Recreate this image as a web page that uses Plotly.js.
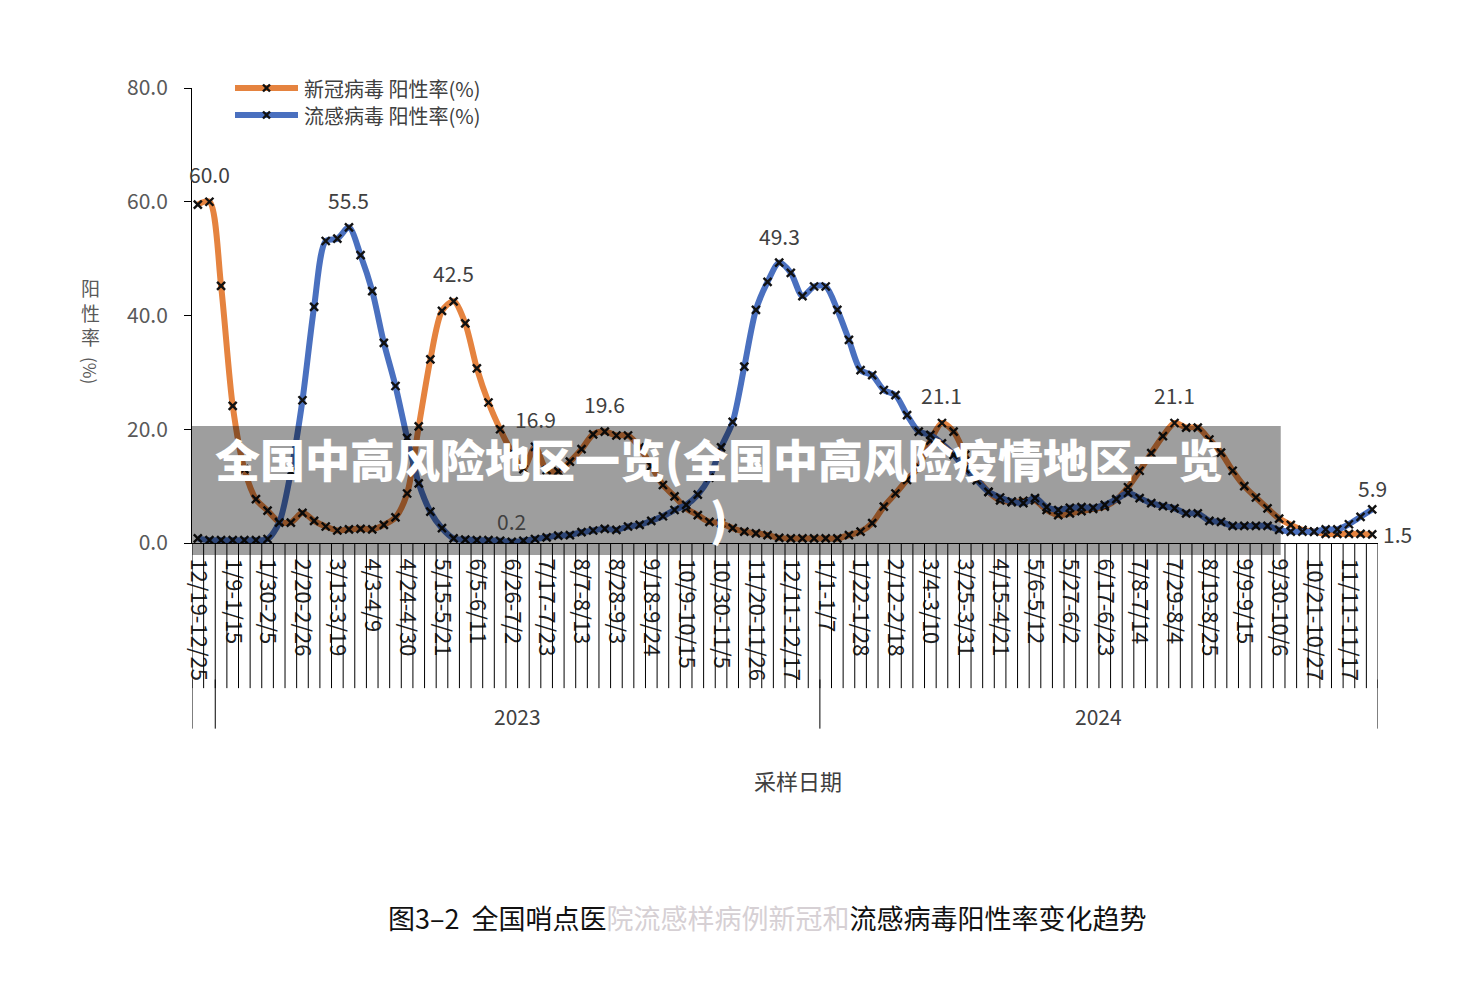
<!DOCTYPE html>
<html>
<head>
<meta charset="utf-8">
<script src="https://cdn.plot.ly/plotly-3.0.1.min.js"></script>
<style>
html,body{margin:0;padding:0;background:#ffffff;}
#chart{width:1474px;height:982px;}
</style>
</head>
<body>
<div id="chart"></div>
<script>
// ---------- DATA ----------
const weeks = [
  '12/19-12/25','12/26-1/1',
  '1/2-1/8','1/9-1/15','1/16-1/22','1/23-1/29','1/30-2/5','2/6-2/12','2/13-2/19','2/20-2/26',
  '2/27-3/5','3/6-3/12','3/13-3/19','3/20-3/26','3/27-4/2','4/3-4/9','4/10-4/16','4/17-4/23',
  '4/24-4/30','5/1-5/7','5/8-5/14','5/15-5/21','5/22-5/28','5/29-6/4','6/5-6/11','6/12-6/18',
  '6/19-6/25','6/26-7/2','7/3-7/9','7/10-7/16','7/17-7/23','7/24-7/30','7/31-8/6','8/7-8/13',
  '8/14-8/20','8/21-8/27','8/28-9/3','9/4-9/10','9/11-9/17','9/18-9/24','9/25-10/1','10/2-10/8',
  '10/9-10/15','10/16-10/22','10/23-10/29','10/30-11/5','11/6-11/12','11/13-11/19','11/20-11/26',
  '11/27-12/3','12/4-12/10','12/11-12/17','12/18-12/24','12/25-12/31',
  '1/1-1/7','1/8-1/14','1/15-1/21','1/22-1/28','1/29-2/4','2/5-2/11','2/12-2/18','2/19-2/25',
  '2/26-3/3','3/4-3/10','3/11-3/17','3/18-3/24','3/25-3/31','4/1-4/7','4/8-4/14','4/15-4/21',
  '4/22-4/28','4/29-5/5','5/6-5/12','5/13-5/19','5/20-5/26','5/27-6/2','6/3-6/9','6/10-6/16',
  '6/17-6/23','6/24-6/30','7/1-7/7','7/8-7/14','7/15-7/21','7/22-7/28','7/29-8/4','8/5-8/11',
  '8/12-8/18','8/19-8/25','8/26-9/1','9/2-9/8','9/9-9/15','9/16-9/22','9/23-9/29','9/30-10/6',
  '10/7-10/13','10/14-10/20','10/21-10/27','10/28-11/3','11/4-11/10','11/11-11/17','11/18-11/24',
  '11/25-12/1'
];

// 新冠病毒 阳性率(%)
const covidRate = [
  59.5, 60.0, 45.2, 24.1, 13.0, 7.7, 5.7, 3.7, 3.6, 5.3,
  3.9, 2.9, 2.2, 2.4, 2.5, 2.4, 3.2, 4.5, 8.7, 20.5,
  32.3, 40.8, 42.5, 38.6, 30.7, 24.7, 20.0, 16.0, 13.0, 16.9,
  12.8, 12.6, 14.3, 16.5, 19.1, 19.6, 18.9, 18.9, 16.8, 13.5,
  10.2, 8.2, 6.1, 4.9, 3.7, 3.5, 2.6, 2.0, 1.7, 1.4,
  0.9, 0.8, 0.8, 0.8, 0.8, 0.8, 1.4, 2.0, 3.5, 6.4,
  8.7, 11.1, 13.4, 18.0, 21.1, 19.6, 15.5, 11.5, 9.0, 7.5,
  7.2, 7.4, 7.5, 5.8, 4.9, 5.2, 5.6, 6.0, 6.4, 7.6,
  9.8, 12.7, 15.8, 18.8, 21.1, 20.3, 20.3, 18.2, 15.9, 12.7,
  10.0, 8.0, 6.1, 4.3, 3.2, 2.3, 2.0, 1.6, 1.6, 1.6,
  1.6, 1.5
];

// 流感病毒 阳性率(%)
const fluRate = [
  0.8, 0.5, 0.5, 0.5, 0.5, 0.5, 0.7, 3.6, 12.5, 25.1,
  41.5, 53.1, 53.5, 55.5, 50.6, 44.3, 35.2, 27.6, 18.5, 10.5,
  5.5, 2.6, 0.8, 0.6, 0.5, 0.5, 0.4, 0.2, 0.4, 0.7,
  1.0, 1.3, 1.4, 1.9, 2.2, 2.5, 2.3, 2.9, 3.2, 3.9,
  4.7, 5.8, 6.7, 8.5, 11.5, 16.8, 21.3, 31.0, 41.0, 45.9,
  49.3, 47.5, 43.4, 45.1, 45.1, 41.0, 35.7, 30.4, 29.5, 26.9,
  26.0, 22.5, 19.6, 19.0, 17.5, 15.5, 13.0, 11.0, 9.0, 8.0,
  7.3, 7.0, 7.9, 6.3, 5.8, 6.2, 6.3, 6.2, 6.7, 7.7,
  8.8, 7.9, 7.0, 6.5, 6.1, 5.2, 5.2, 3.9, 3.7, 3.0,
  3.0, 3.0, 3.0, 2.3, 2.0, 2.0, 2.0, 2.4, 2.4, 3.3,
  4.6, 5.9
];

const yearLabels = ['', '2023', '2024'];
const yearWeekCounts = [2, 52, 48];
const labelledWeekStep = 3;
const covidLabelIdx = [1, 22, 29, 35, 64, 84];
const fluLabelIdx = [13, 27, 50, 101];
const seriesNames = ['新冠病毒 阳性率(%)', '流感病毒 阳性率(%)'];
const seriesColors = ['#E5833F', '#4A70BF'];
const yTitle = ['阳', '性', '率'];
const xTitle = '采样日期';
const caption = ['图3–2  全国哨点医', '院流感样病例新冠和', '流感病毒阳性率变化趋势'];
const watermark = '全国中高风险地区一览(全国中高风险疫情地区一览<br>)';

// ---------- CHART ----------
const CJK = '"Noto Sans CJK SC", "Noto Sans", sans-serif';
const tickvals = weeks.filter((w, i) => i % labelledWeekStep === 0);

const markerStyle = {symbol: 'x-thin', size: 8, color: '#111', line: {width: 2.4, color: '#111'}};
const traces = [covidRate, fluRate].map((vals, k) => ({
  x: weeks, y: vals, name: seriesNames[k], type: 'scatter', mode: 'lines+markers',
  line: {color: seriesColors[k], width: 6, shape: 'spline', smoothing: 0.8}, marker: markerStyle,
  showlegend: false
}));

const shapes = [];
// category boundary lines
for (let i = 0; i <= weeks.length; i++) {
  shapes.push({type: 'line', xref: 'x', yref: 'paper', x0: i - 0.5, x1: i - 0.5,
    y0: 0, y1: -0.319, line: {color: '#000', width: 1}});
}
// year group dividers
let cum = 0;
const bounds = [0];
yearWeekCounts.forEach(c => { cum += c; bounds.push(cum); });
bounds.forEach(b => {
  shapes.push({type: 'line', xref: 'x', yref: 'paper', x0: b - 0.5, x1: b - 0.5,
    y0: -0.30, y1: -0.408, line: {color: '#000', width: 1}});
});
// watermark band
shapes.push({type: 'rect', xref: 'paper', yref: 'paper', x0: 0, x1: 0.918, y0: -0.0264, y1: 0.257,
  fillcolor: 'rgba(0,0,0,0.38)', line: {width: 0}, layer: 'above'});

// legend (drawn manually so the line samples match the original length)
const pxX = 1 / 1186, pxY = 1 / 455;
const legX0 = 43 * pxX, legX1 = 106 * pxX, legMid = (legX0 + legX1) / 2;
const legYs = [1.0, 1.0 - 27 * pxY];
const annotations = [];
seriesNames.forEach((nm, k) => {
  const yy = legYs[k];
  shapes.push({type: 'line', xref: 'paper', yref: 'paper', x0: legX0, x1: legX1, y0: yy, y1: yy,
    line: {color: seriesColors[k], width: 6}});
  shapes.push({type: 'line', xref: 'paper', yref: 'paper', x0: legMid - 3.5 * pxX, x1: legMid + 3.5 * pxX,
    y0: yy - 3.5 * pxY, y1: yy + 3.5 * pxY, line: {color: '#111', width: 2.4}});
  shapes.push({type: 'line', xref: 'paper', yref: 'paper', x0: legMid - 3.5 * pxX, x1: legMid + 3.5 * pxX,
    y0: yy + 3.5 * pxY, y1: yy - 3.5 * pxY, line: {color: '#111', width: 2.4}});
  annotations.push({x: legX1 + 4 * pxX, y: yy, xref: 'paper', yref: 'paper', xanchor: 'left', yanchor: 'middle',
    text: nm, showarrow: false, font: {family: CJK, size: 20, color: '#404040'}});
});

const lblFont = {family: CJK, size: 21, color: '#404040'};
covidLabelIdx.forEach(i => {
  annotations.push({x: weeks[i], y: covidRate[i], xref: 'x', yref: 'y', text: covidRate[i].toFixed(1),
    showarrow: false, yshift: 28, xanchor: 'center', yanchor: 'middle', font: lblFont});
});
fluLabelIdx.forEach(i => {
  annotations.push({x: weeks[i], y: fluRate[i], xref: 'x', yref: 'y', text: fluRate[i].toFixed(1),
    showarrow: false, yshift: (fluRate[i] < 10 ? 21 : 27), xanchor: 'center', yanchor: 'middle', font: lblFont});
});
// last covid value label to the right
const last = weeks.length - 1;
annotations.push({x: weeks[last], y: covidRate[last], xref: 'x', yref: 'y', text: covidRate[last].toFixed(1),
  showarrow: false, xanchor: 'left', yanchor: 'middle', xshift: 9, font: lblFont});

// year labels
for (let g = 0; g < yearLabels.length; g++) {
  if (!yearLabels[g]) continue;
  const mid = (bounds[g] + bounds[g + 1] - 1) / 2;
  annotations.push({x: mid, y: -0.38, xref: 'x', yref: 'paper', text: yearLabels[g], showarrow: false,
    xanchor: 'center', yanchor: 'middle', font: {family: CJK, size: 21, color: '#404040'}});
}
// axis titles
annotations.push({x: 0.511, y: -0.521, xref: 'paper', yref: 'paper', text: xTitle, showarrow: false,
  xanchor: 'center', yanchor: 'middle', font: {family: CJK, size: 22, color: '#404040'}});
annotations.push({x: -0.0852, y: 0.508, xref: 'paper', yref: 'paper', text: yTitle.join('<br>'), showarrow: false,
  xanchor: 'center', yanchor: 'middle', font: {family: CJK, size: 19, color: '#595959'}});
annotations.push({x: -0.0852, y: 0.378, xref: 'paper', yref: 'paper', text: '(%)', textangle: 90, showarrow: false,
  xanchor: 'center', yanchor: 'middle', font: {family: CJK, size: 17, color: '#595959'}});
// caption
annotations.push({x: 0.485, y: -0.824, xref: 'paper', yref: 'paper', showarrow: false,
  xanchor: 'center', yanchor: 'middle',
  text: caption[0] + '<span style="color:#d6d0d4">' + caption[1] + '</span>' + caption[2],
  font: {family: CJK, size: 27, color: '#111'}});
// watermark text
annotations.push({x: 0.444, y: 0.121, xref: 'paper', yref: 'paper', showarrow: false, text: watermark,
  xanchor: 'center', yanchor: 'middle',
  font: {family: CJK, size: 45, color: '#ffffff', weight: 900}, align: 'center'});

const layout = {
  width: 1474, height: 982,
  margin: {l: 192, r: 96, t: 88, b: 439},
  paper_bgcolor: '#ffffff', plot_bgcolor: '#ffffff',
  font: {family: CJK, color: '#404040'},
  xaxis: {type: 'category', range: [-0.5, weeks.length - 0.5], showline: true, linecolor: '#000', linewidth: 1,
    ticks: '', tickmode: 'array', tickvals: tickvals, ticktext: tickvals, tickangle: 90,
    tickfont: {family: CJK, size: 22, color: '#222'}, ticklabelstandoff: 10,
    showgrid: false, zeroline: false, automargin: false, fixedrange: true},
  yaxis: {range: [0, 80], tick0: 0, dtick: 20, tickformat: '.1f', showline: true, linecolor: '#000', linewidth: 1,
    ticks: 'outside', ticklen: 7, tickcolor: '#000', showgrid: false, zeroline: false,
    tickfont: {family: CJK, size: 21, color: '#595959'}, ticklabelstandoff: 12, automargin: false, fixedrange: true},
  showlegend: false,
  shapes: shapes,
  annotations: annotations
};

Plotly.newPlot('chart', traces, layout, {displayModeBar: false, staticPlot: true});
</script>
</body>
</html>
